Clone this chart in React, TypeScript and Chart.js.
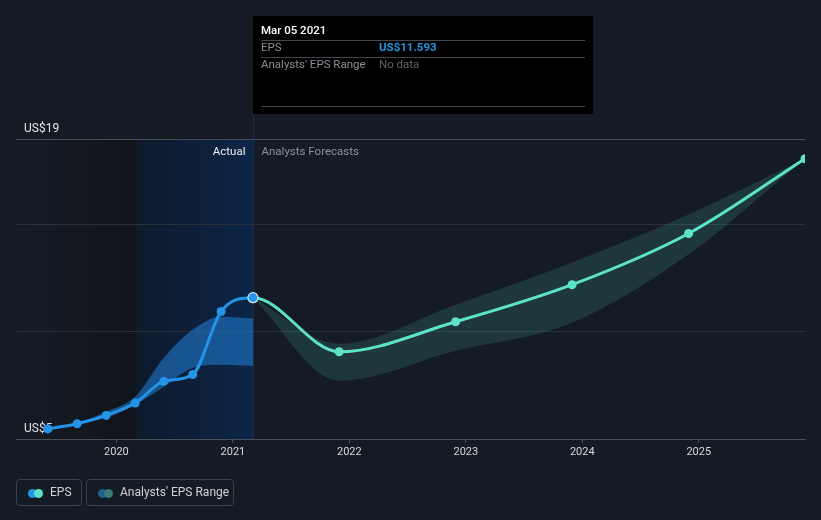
import React, { useEffect, useRef } from 'react';
import { Chart, registerables } from 'chart.js';

Chart.register(...registerables);

// ---- data ----
const actualDates = ['2019-05-31', '2019-08-31', '2019-11-30', '2020-02-29', '2020-05-29', '2020-08-28', '2020-11-25', '2021-03-05'];
const actualEps = [5.47, 5.71, 6.1, 6.68, 7.69, 8.01, 10.95, 11.593];
const forecastDates = ['2021-11-30', '2022-11-30', '2023-11-30', '2024-11-30', '2025-11-30'];
const forecastEps = [9.07, 10.47, 12.2, 14.59, 18.08];
const actualRangeDates = ['2019-08-31', '2019-11-30', '2020-02-29', '2020-05-29', '2020-08-28', '2020-11-25', '2021-03-05'];
const actualRangeHigh = [5.71, 6.27, 6.97, 8.79, 10.1, 10.71, 10.62];
const actualRangeLow = [5.71, 5.99, 6.6, 7.44, 8.33, 8.47, 8.42];
const forecastRangeDates = ['2021-03-05', '2021-11-30', '2022-11-30', '2023-11-30', '2024-11-30', '2025-11-30'];
const forecastRangeHigh = [11.593, 9.45, 11.27, 13.24, 15.48, 18.08];
const forecastRangeLow = [11.593, 7.72, 9.12, 10.43, 13.62, 18.08];
const yearTicks = [2020, 2021, 2022, 2023, 2024, 2025];
const yGridValues = [5, 10, 15, 19];
const yLabelValues = [5, 19];
const pastRegionStart = '2020-03-05';
const tooltipDate = 'Mar 05 2021';
const tooltipEps = 'US$11.593';

const BLUE = '#2394e8';
const TEAL = '#5ce3c8';
const FONT = 'Roboto, "Noto Sans", sans-serif';

function toYear(s: string): number {
  const [y, m, d] = s.split('-').map(Number);
  const start = Date.UTC(y, 0, 1);
  const end = Date.UTC(y + 1, 0, 1);
  return y + (Date.UTC(y, m - 1, d) - start) / (end - start);
}

const pts = (dates: string[], vals: number[]) => dates.map((d, i) => ({ x: toYear(d), y: vals[i] }));

export default function App() {
  const ref = useRef<HTMLCanvasElement | null>(null);

  useEffect(() => {
    document.body.style.margin = '0';
    const canvas = ref.current;
    if (!canvas) return;
    const splitX = toYear(actualDates[actualDates.length - 1]);
    const regionX = toYear(pastRegionStart);
    const nActual = actualEps.length;

    const decor = {
      id: 'decor',
      beforeDraw(chart: any) {
        const { ctx, chartArea, scales } = chart;
        ctx.save();
        ctx.fillStyle = '#151b25';
        ctx.fillRect(0, 0, chart.width, chart.height);
        const xs = scales.x.getPixelForValue(regionX);
        const xe = scales.x.getPixelForValue(splitX);
        const g1 = ctx.createLinearGradient(chartArea.left, 0, xs, 0);
        g1.addColorStop(0, 'rgba(0,0,0,0)');
        g1.addColorStop(1, 'rgba(0,0,0,0.25)');
        ctx.fillStyle = g1;
        ctx.fillRect(chartArea.left, chartArea.top, xs - chartArea.left, chartArea.bottom - chartArea.top);
        const g2 = ctx.createLinearGradient(xs, 0, xe, 0);
        g2.addColorStop(0, '#0e1a2d');
        g2.addColorStop(1, '#0c2547');
        ctx.fillStyle = g2;
        ctx.fillRect(xs, chartArea.top, xe - xs, chartArea.bottom - chartArea.top);
        ctx.restore();
      },
      beforeDatasetsDraw(chart: any) {
        const { ctx, chartArea, scales } = chart;
        ctx.save();
        const xe = Math.round(scales.x.getPixelForValue(splitX)) + 0.5;
        ctx.strokeStyle = '#1d2e4b';
        ctx.lineWidth = 1;
        ctx.beginPath();
        ctx.moveTo(xe, 16);
        ctx.lineTo(xe, chartArea.bottom);
        ctx.stroke();
        ctx.font = `12px ${FONT}`;
        ctx.fillStyle = '#e2e4e7';
        ctx.textBaseline = 'bottom';
        ctx.textAlign = 'left';
        yLabelValues.forEach((v) => {
          const y = scales.y.getPixelForValue(v);
          ctx.fillText('US$' + v, chartArea.left + 8, y - 4);
        });
        ctx.textBaseline = 'middle';
        ctx.font = `11.5px ${FONT}`;
        ctx.textAlign = 'right';
        ctx.fillStyle = '#eceef0';
        ctx.fillText('Actual', xe - 8, chartArea.top + 13);
        ctx.textAlign = 'left';
        ctx.fillStyle = '#8b9098';
        ctx.fillText('Analysts Forecasts', xe + 8, chartArea.top + 13);
        ctx.restore();
      },
      afterDraw(chart: any) {
        const { ctx, scales } = chart;
        ctx.save();
        const x0 = Math.round(scales.x.getPixelForValue(splitX));
        const w = 340;
        ctx.fillStyle = '#000000';
        ctx.fillRect(x0, 16, w, 98);
        ctx.textBaseline = 'middle';
        ctx.textAlign = 'left';
        ctx.font = `500 11.5px ${FONT}`;
        ctx.fillStyle = '#ffffff';
        ctx.fillText(tooltipDate, x0 + 8, 31.5);
        ctx.strokeStyle = '#43474d';
        ctx.lineWidth = 1;
        [40.5, 57.5, 106.5].forEach((y) => {
          ctx.beginPath();
          ctx.moveTo(x0 + 8, y);
          ctx.lineTo(x0 + w - 8, y);
          ctx.stroke();
        });
        ctx.font = `11.5px ${FONT}`;
        ctx.fillStyle = '#8a8f96';
        ctx.fillText('EPS', x0 + 8, 48.5);
        ctx.fillText("Analysts' EPS Range", x0 + 8, 65.5);
        ctx.font = `bold 11.5px ${FONT}`;
        ctx.fillStyle = '#2394e0';
        ctx.fillText(tooltipEps, x0 + 126, 48.5);
        ctx.font = `11.5px ${FONT}`;
        ctx.fillStyle = '#5f636a';
        ctx.fillText('No data', x0 + 126, 65.5);
        ctx.restore();
      },
    };

    const chart = new Chart(canvas, {
      type: 'line',
      data: {
        datasets: [
          {
            label: 'EPS',
            data: [...pts(actualDates, actualEps), ...pts(forecastDates, forecastEps)],
            borderWidth: 3,
            cubicInterpolationMode: 'monotone',
            segment: {
              borderColor: (c: any) => (c.p0.parsed.x >= splitX - 1e-6 ? TEAL : BLUE),
            },
            borderColor: BLUE,
            pointRadius: (c: any) => (c.dataIndex === nActual - 1 ? 5 : 4.5),
            pointBackgroundColor: (c: any) => (c.dataIndex < nActual ? BLUE : TEAL),
            pointBorderColor: (c: any) => (c.dataIndex === nActual - 1 ? '#d6e9fb' : c.dataIndex < nActual ? BLUE : TEAL),
            pointBorderWidth: (c: any) => (c.dataIndex === nActual - 1 ? 1.2 : 0),
            fill: false,
          } as any,
          {
            label: 'actualHigh',
            data: pts(actualRangeDates, actualRangeHigh),
            borderWidth: 0,
            pointRadius: 0,
            cubicInterpolationMode: 'monotone',
            fill: false,
          },
          {
            label: 'actualLow',
            data: pts(actualRangeDates, actualRangeLow),
            borderWidth: 0,
            pointRadius: 0,
            cubicInterpolationMode: 'monotone',
            fill: '-1',
            backgroundColor: 'rgba(35,135,225,0.52)',
          },
          {
            label: 'forecastHigh',
            data: pts(forecastRangeDates, forecastRangeHigh),
            borderWidth: 0,
            pointRadius: 0,
            cubicInterpolationMode: 'monotone',
            fill: false,
          },
          {
            label: 'forecastLow',
            data: pts(forecastRangeDates, forecastRangeLow),
            borderWidth: 0,
            pointRadius: 0,
            cubicInterpolationMode: 'monotone',
            fill: '-1',
            backgroundColor: 'rgba(88,224,200,0.15)',
          },
        ],
      },
      options: {
        animation: false,
        responsive: false,
        maintainAspectRatio: false,
        layout: { padding: { left: 16, right: 16, top: 139, bottom: 0 } },
        plugins: { legend: { display: false }, tooltip: { enabled: false } },
        scales: {
          x: {
            type: 'linear',
            min: 2019.138,
            max: 2025.912,
            afterBuildTicks: (s: any) => {
              s.ticks = yearTicks.map((v) => ({ value: v }));
            },
            afterFit: (s: any) => {
              s.height = 81;
            },
            ticks: {
              color: '#d6d8db',
              font: { family: FONT, size: 11 },
              padding: 3,
              maxRotation: 0,
              autoSkip: false,
              callback: (v: any) => String(v),
            },
            grid: { drawOnChartArea: false, drawTicks: true, tickLength: 4, color: '#4a5059' },
            border: { display: true, color: '#4a5059' },
          },
          y: {
            min: 5,
            max: 19,
            afterBuildTicks: (s: any) => {
              s.ticks = yGridValues.map((v) => ({ value: v }));
            },
            afterFit: (s: any) => {
              s.width = 0;
            },
            ticks: { display: false },
            grid: {
              drawTicks: false,
              color: (c: any) => (c.tick && c.tick.value === 19 ? '#474c55' : '#2a3039'),
            },
            border: { display: false },
          },
        },
      } as any,
      plugins: [decor],
    });
    return () => chart.destroy();
  }, []);

  const box: React.CSSProperties = {
    position: 'absolute',
    top: 479,
    height: 27,
    boxSizing: 'border-box',
    border: '1px solid #3a414c',
    borderRadius: 4,
  };
  const dot = (left: number, color: string): React.CSSProperties => ({
    position: 'absolute',
    left,
    top: 8.5,
    width: 9,
    height: 9,
    borderRadius: '50%',
    background: color,
  });
  const txt = (left: number): React.CSSProperties => ({
    position: 'absolute',
    left,
    top: 0,
    lineHeight: '25px',
    fontFamily: FONT,
    fontSize: 12,
    color: '#d0d3d7',
    whiteSpace: 'nowrap',
  });

  return (
    <div style={{ position: 'fixed', left: 0, top: 0, width: 821, height: 520, background: '#151b25', overflow: 'hidden' }}>
      <canvas ref={ref} width={821} height={520} style={{ display: 'block', width: 821, height: 520 }} />
      <div style={{ ...box, left: 16, width: 66 }}>
        <div style={dot(11, BLUE)} />
        <div style={dot(16.5, TEAL)} />
        <div style={txt(33)}>EPS</div>
      </div>
      <div style={{ ...box, left: 86, width: 148 }}>
        <div style={dot(11, '#23608f')} />
        <div style={dot(16.5, '#3b7b74')} />
        <div style={txt(33)}>Analysts' EPS Range</div>
      </div>
    </div>
  );
}
